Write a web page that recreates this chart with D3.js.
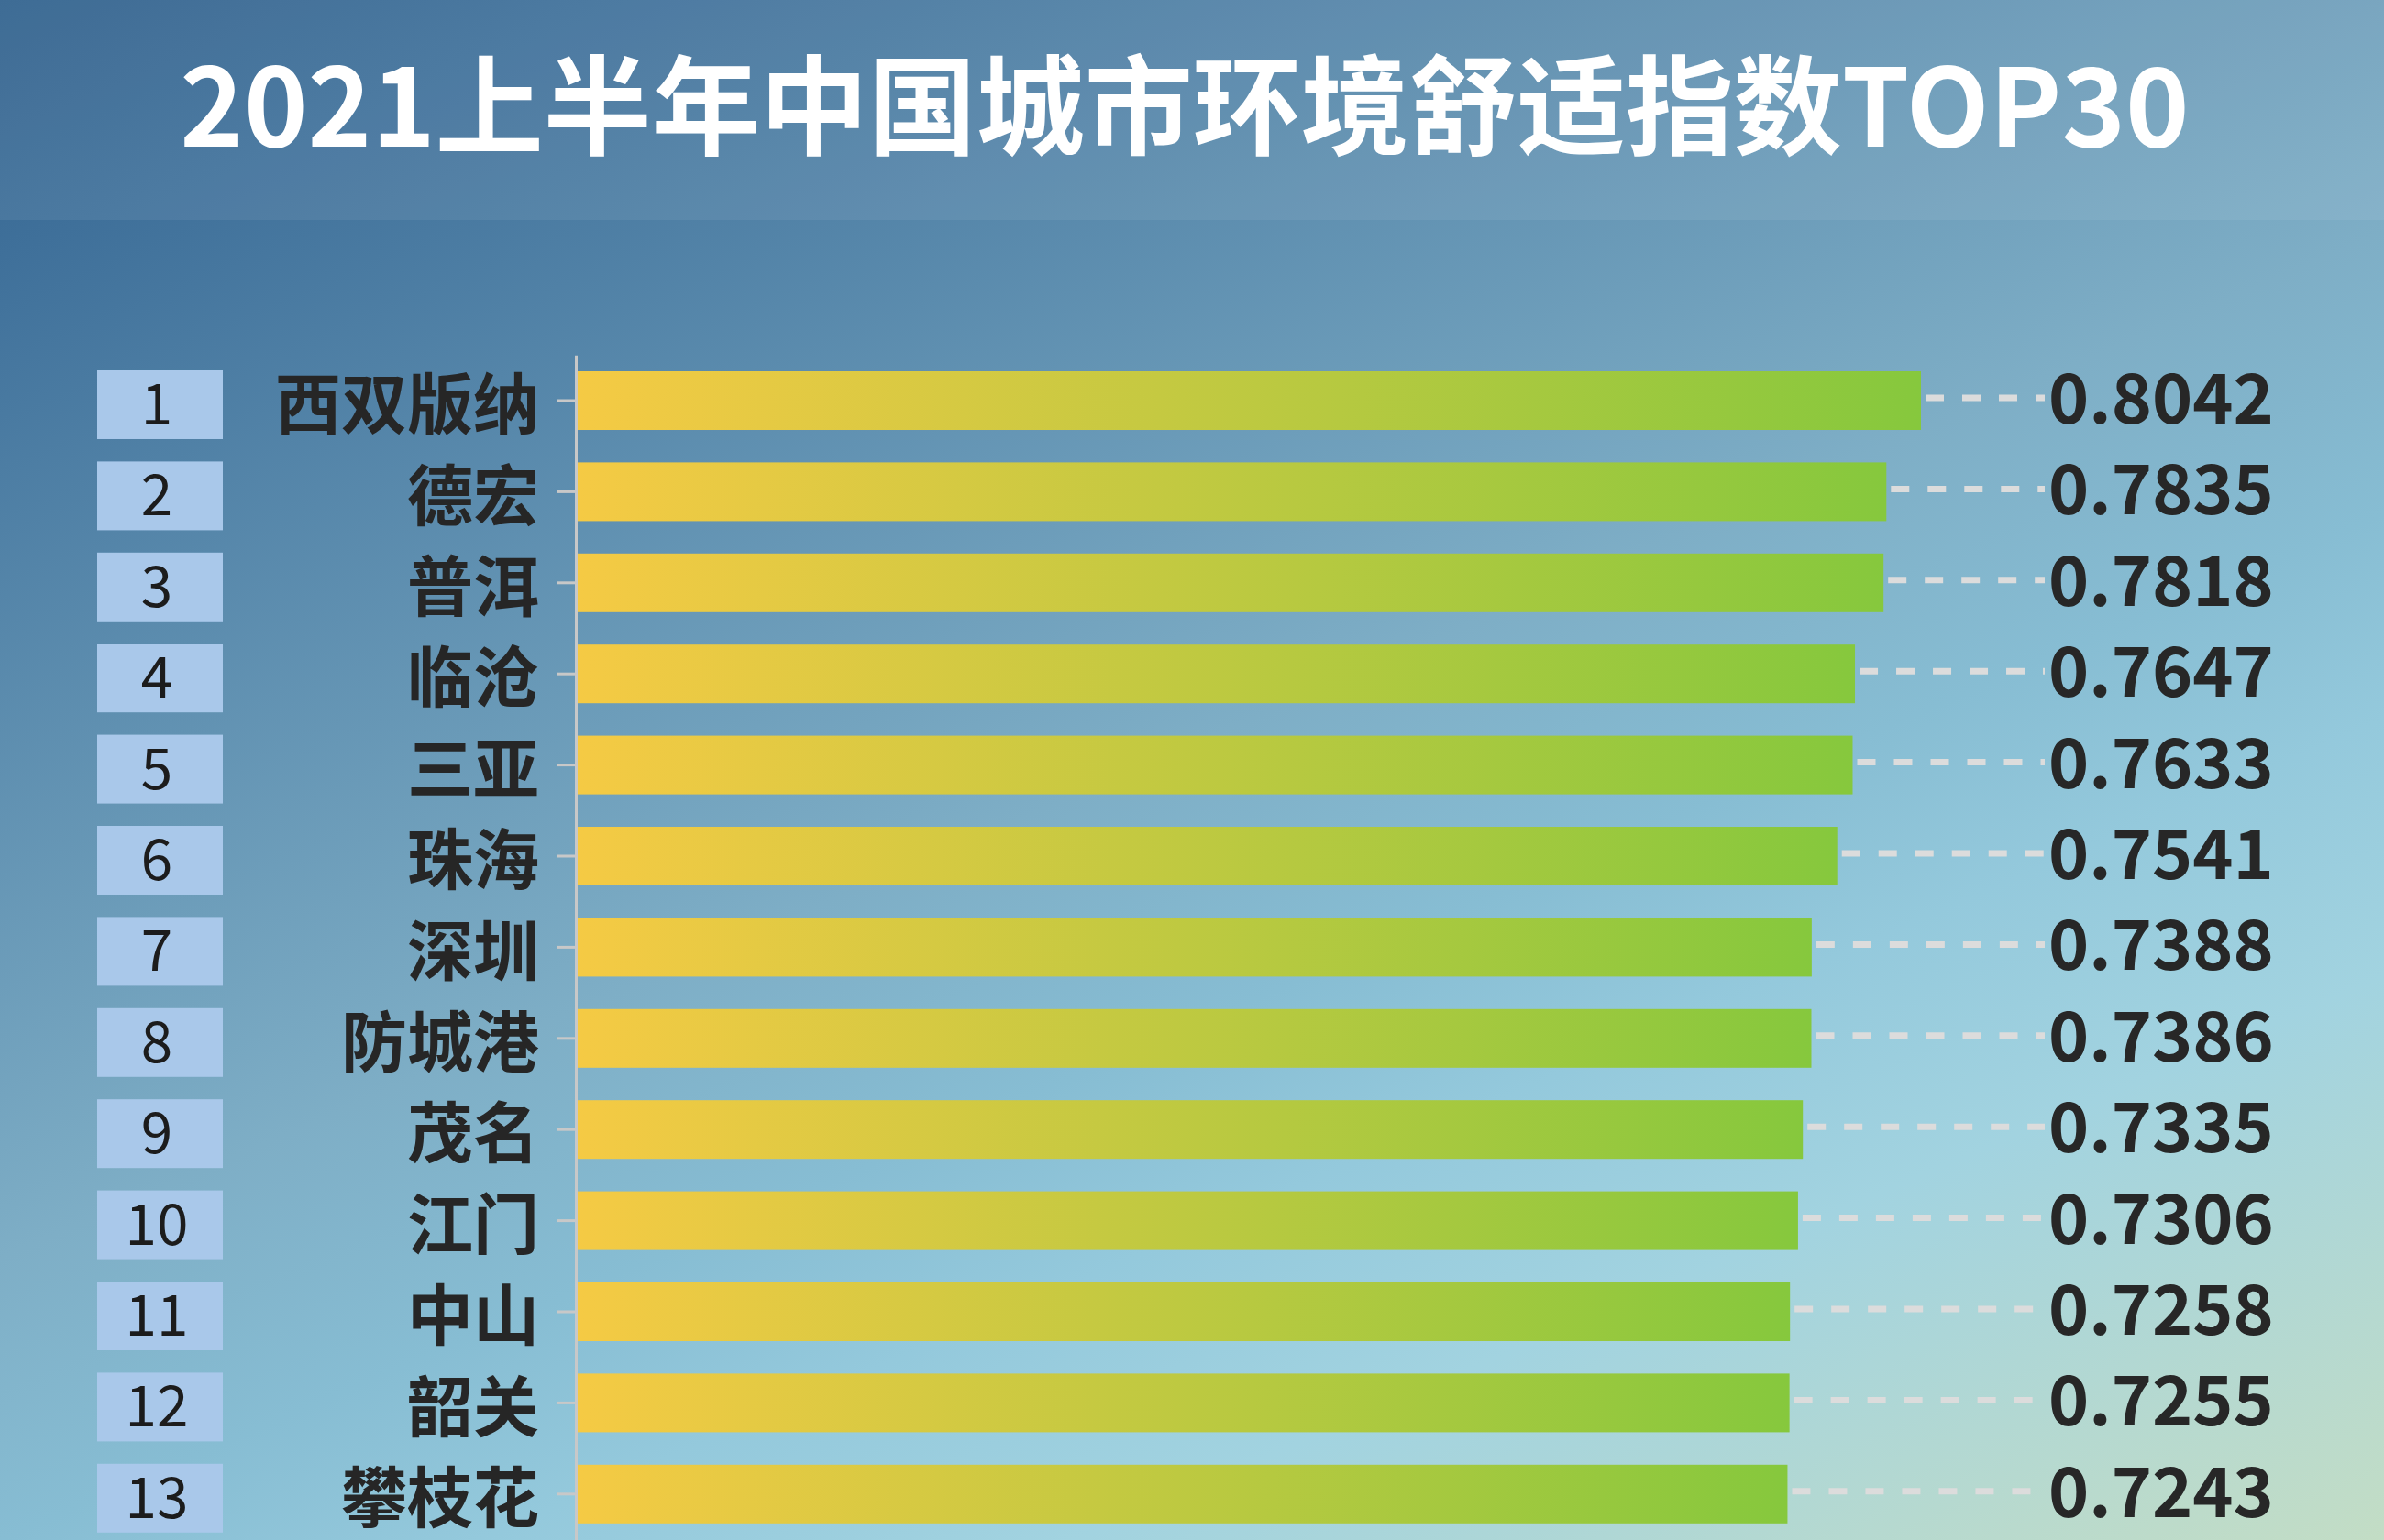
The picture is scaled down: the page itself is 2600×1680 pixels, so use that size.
<!DOCTYPE html>
<html>
<head>
<meta charset="utf-8">
<script src="https://cdn.jsdelivr.net/npm/d3@7"></script>
<style>
  html, body { margin: 0; padding: 0; }
  body { width: 2600px; height: 1680px; overflow: hidden; }
</style>
</head>
<body>
<div id="chart"></div>
<script>
/**
 * CONSTANTS AND DATA
 * */
const width = 2600,
  height = 1680;

const title = "2021上半年中国城市环境舒适指数TOP30";
const ranks = ["1", "2", "3", "4", "5", "6", "7", "8", "9", "10", "11", "12", "13"];
const cities = ["西双版纳", "德宏", "普洱", "临沧", "三亚", "珠海", "深圳", "防城港", "茂名", "江门", "中山", "韶关", "攀枝花"];
const scores = [0.8042, 0.7835, 0.7818, 0.7647, 0.7633, 0.7541, 0.7388, 0.7386, 0.7335, 0.7306, 0.7258, 0.7255, 0.7243];

const cjk = "'Noto Sans CJK SC', 'Noto Sans', sans-serif";

const rows = cities.map((c, i) => ({ city: c, rank: ranks[i], value: scores[i] }));

const svg = d3.select("#chart")
  .append("svg")
  .attr("width", width)
  .attr("height", height);

const defs = svg.append("defs");

// background gradient, dark blue top-left to pale green bottom-right
const bg = defs.append("linearGradient")
  .attr("id", "bg")
  .attr("gradientUnits", "userSpaceOnUse")
  .attr("x1", 0).attr("y1", 0)
  .attr("x2", 1017).attr("y2", 2362);
[[0, "#30618d"], [0.1, "#3f709a"], [0.49, "#7eaec6"], [0.6, "#87bdd3"],
 [0.68, "#94c9dc"], [0.78, "#a2d3e0"], [1, "#c3ddc5"]].forEach(s => {
  bg.append("stop").attr("offset", s[0]).attr("stop-color", s[1]);
});

// bar fill: yellow -> green
const barGrad = defs.append("linearGradient")
  .attr("id", "barGrad")
  .attr("x1", 0).attr("y1", 0).attr("x2", 1).attr("y2", 0);
barGrad.append("stop").attr("offset", 0).attr("stop-color", "#f5ca44");
barGrad.append("stop").attr("offset", 1).attr("stop-color", "#86c83d");

svg.append("rect")
  .attr("width", width)
  .attr("height", height)
  .attr("fill", "url(#bg)");

// header band
svg.append("rect")
  .attr("width", width)
  .attr("height", 240)
  .attr("fill", "#ffffff")
  .attr("opacity", 0.07);

svg.append("text")
  .attr("x", 1292)
  .attr("y", 160)
  .attr("text-anchor", "middle")
  .attr("font-family", cjk)
  .attr("font-weight", 700)
  .attr("font-size", 118)
  .attr("fill", "#ffffff")
  .text(title);

/**
 * SCALES
 * */
const x = d3.scaleLinear()
  .domain([0, d3.max(scores)])
  .range([630, 2095]);

const y = d3.scaleBand()
  .domain(cities)
  .range([387.3, 1679.5])
  .paddingInner(0.356)
  .paddingOuter(0.178);

// + AXIS WITH CITY NAMES
const yAxis = svg.append("g")
  .attr("transform", `translate(628,0)`)
  .call(d3.axisLeft(y).tickSize(21).tickSizeOuter(0).tickPadding(19));

yAxis.select(".domain")
  .attr("stroke", "#c8c8c8")
  .attr("stroke-width", 3);
yAxis.selectAll(".tick line")
  .attr("stroke", "#c8c8c8")
  .attr("stroke-width", 3);
yAxis.selectAll(".tick text")
  .attr("dy", "0.42em")
  .attr("font-family", cjk)
  .attr("font-weight", 700)
  .attr("font-size", 72)
  .attr("fill", "#262626");

// + BARS
const row = svg.selectAll("g.row")
  .data(rows)
  .join("g")
  .attr("class", "row");

row.append("rect")
  .attr("x", x(0))
  .attr("y", d => y(d.city))
  .attr("width", d => x(d.value) - x(0))
  .attr("height", y.bandwidth())
  .attr("fill", "url(#barGrad)");

// rank boxes
row.append("rect")
  .attr("x", 106)
  .attr("y", d => y(d.city) - 1)
  .attr("width", 137)
  .attr("height", 75)
  .attr("fill", "#a9c8ea");

row.append("text")
  .attr("x", 171)
  .attr("y", d => y(d.city) + 58)
  .attr("text-anchor", "middle")
  .attr("font-family", cjk)
  .attr("font-weight", 400)
  .attr("font-size", 62)
  .attr("fill", "#1c1c1c")
  .text(d => d.rank);

// dashed leaders
row.append("line")
  .attr("x1", d => x(d.value) + 5)
  .attr("x2", 2230)
  .attr("y1", d => y(d.city) + y.bandwidth() / 2 - 3)
  .attr("y2", d => y(d.city) + y.bandwidth() / 2 - 3)
  .attr("stroke", "#dcdcdc")
  .attr("stroke-width", 7)
  .attr("stroke-dasharray", "20 20");

// values
row.append("text")
  .attr("x", 2234)
  .attr("y", d => y(d.city) + 57)
  .attr("font-family", cjk)
  .attr("font-weight", 700)
  .attr("font-size", 75)
  .attr("fill", "#272727")
  .text(d => d.value.toFixed(4));
</script>
</body>
</html>
